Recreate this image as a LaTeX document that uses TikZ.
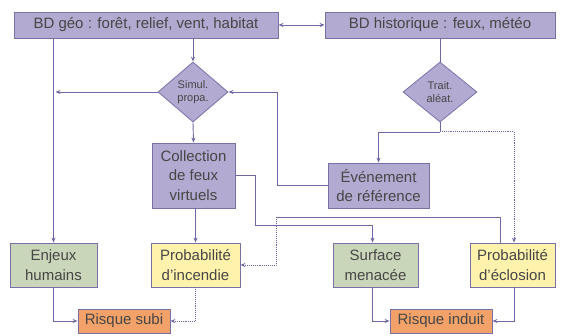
\documentclass[tikz,border=0pt]{standalone}
\usepackage{fontspec}
\setmainfont{Liberation Sans}
\usetikzlibrary{shapes.geometric,arrows.meta}

\definecolor{lavbox}{RGB}{178,170,208}
\definecolor{greenbox}{RGB}{202,214,186}
\definecolor{yellowbox}{RGB}{255,242,172}
\definecolor{orangebox}{RGB}{242,162,104}
\definecolor{edgecol}{RGB}{122,112,168}
\definecolor{linecol}{RGB}{112,104,164}
\definecolor{txtcol}{RGB}{70,70,70}

\begin{document}
\begin{tikzpicture}[x=1pt,y=-1pt,
  box/.style={draw=edgecol, line width=0.8pt, fill=lavbox, text=txtcol, align=center, inner sep=0pt, font=\fontsize{15}{19.5}\selectfont},
  losange/.style={diamond, draw=edgecol, line width=0.8pt, fill=lavbox, text=txtcol, align=center, inner sep=0pt, font=\fontsize{11}{13}\selectfont},
  fl/.style={draw=linecol, line width=0.9pt, -{Stealth[length=5pt,width=4pt]}},
  trait/.style={draw=linecol, line width=0.9pt},
  pointille/.style={densely dotted, line width=1pt}]

\useasboundingbox (0,0) rectangle (561,336);

% bases de donnees
\node[box, minimum width=264, minimum height=26] (geo) at (146,25) {BD géo : forêt, relief, vent, habitat};
\node[box, minimum width=230, minimum height=26] (hist) at (440,25) {BD historique : feux, météo};

% losanges
\node[losange, minimum width=70, minimum height=60] (simul) at (193,92) {Simul.\\propa.};
\node[losange, minimum width=74, minimum height=60] (alea) at (440,92) {Trait.\\aléat.};

% boites du milieu
\node[box, minimum width=83, minimum height=65] (collec) at (193.5,175.5) {Collection\\de feux\\virtuels};
\node[box, minimum width=101, minimum height=45] (evt) at (378.5,185.5) {Événement\\de référence};

% boites du bas
\node[box, fill=greenbox, minimum width=87, minimum height=44] (enjeux) at (53.5,265) {Enjeux\\humains};
\node[box, fill=yellowbox, minimum width=89, minimum height=44] (pinc) at (195.5,265) {Probabilité\\d'incendie};
\node[box, fill=greenbox, minimum width=85, minimum height=44] (surf) at (375.5,265) {Surface\\menacée};
\node[box, fill=yellowbox, minimum width=85, minimum height=44] (pecl) at (512.5,265) {Probabilité\\d'éclosion};

% risques
\node[box, fill=orangebox, minimum width=92, minimum height=24] (rsubi) at (124,321) {Risque subi};
\node[box, fill=orangebox, minimum width=102, minimum height=24] (rinduit) at (441,321) {Risque induit};

\coordinate (split) at (440,132);
\coordinate (coude) at (276,217);

% liaisons
\draw[fl, {Stealth[length=5pt,width=4pt]}-{Stealth[length=5pt,width=4pt]}] (geo) -- (hist);
\draw[fl] (enjeux.north |- geo.south) -- (enjeux.north);
\draw[fl] (simul.north |- geo.south) -- (simul.north);
\draw[fl] (simul.west) -- ([xshift=2pt]enjeux.north |- simul.west);
\draw[trait] (hist) -- (alea);
\draw[trait] (alea.south) -- (split);
\draw[fl] (split) -| (evt.north);
\draw[fl, pointille] (split) -| ([xshift=1.5pt]pecl.north);
\draw[fl] (evt.west) -- ++(-50,0) |- (simul.east);
\draw[fl] (simul.south) -- (collec.north);
\draw[fl] (collec.east) -- ++(20,0) -- ++(0,50) -| ([xshift=-3pt]surf.north);
\draw[fl] (pinc.north |- collec.south) -- (pinc.north);
\draw[trait] ([xshift=-12pt]pecl.north) |- (coude);
\draw[fl, pointille] (coude) |- (pinc.east);
\draw[fl] (enjeux.south) |- (rsubi.west);
\draw[fl, pointille] (pinc.south) |- (rsubi.east);
\draw[fl] ([xshift=-3pt]surf.south) |- (rinduit.west);
\draw[fl] ([xshift=2pt]pecl.south) |- (rinduit.east);

\end{tikzpicture}
\end{document}
